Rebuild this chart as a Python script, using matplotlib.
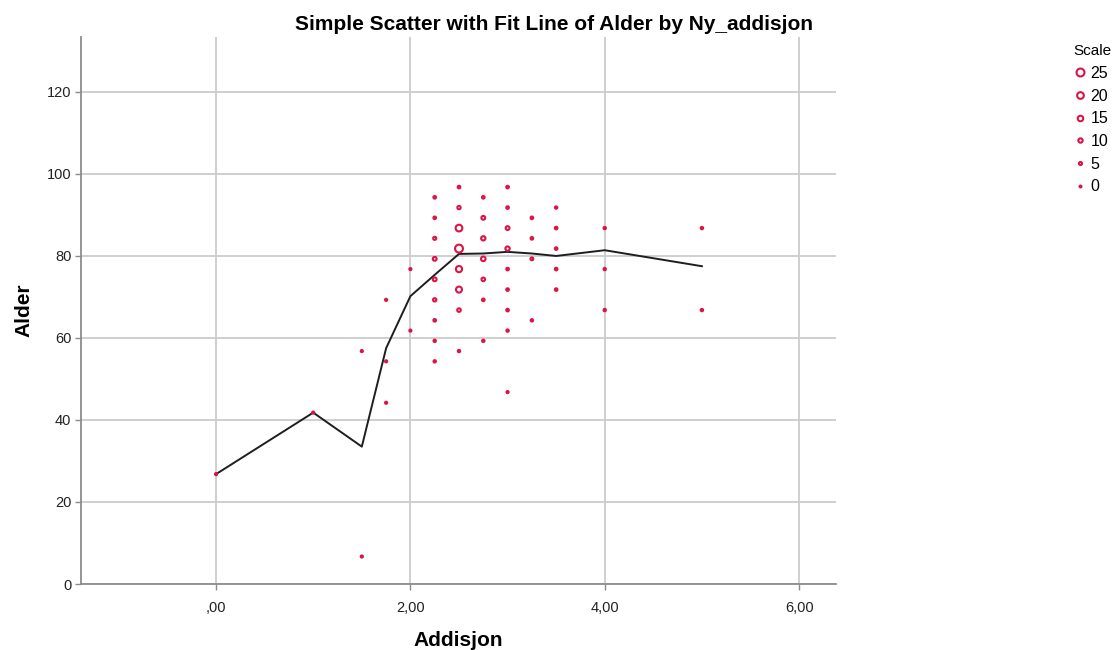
import matplotlib

matplotlib.use("Agg")
import matplotlib.pyplot as plt
from matplotlib.lines import Line2D

plt.rcParams["font.family"] = ["Liberation Sans", "DejaVu Sans"]

# binned scatter: bin centre (Addisjon), bin centre (Alder), count in bin
addisjon = [
    0.0, 1.0, 1.5, 1.5, 1.75, 1.75, 1.75, 2.0, 2.0,
    2.25, 2.25, 2.25, 2.25, 2.25, 2.25, 2.25, 2.25, 2.25,
    2.5, 2.5, 2.5, 2.5, 2.5, 2.5, 2.5, 2.5,
    2.75, 2.75, 2.75, 2.75, 2.75, 2.75, 2.75,
    3.0, 3.0, 3.0, 3.0, 3.0, 3.0, 3.0, 3.0, 3.0,
    3.25, 3.25, 3.25, 3.25,
    3.5, 3.5, 3.5, 3.5, 3.5,
    4.0, 4.0, 4.0, 5.0, 5.0,
]
alder = [
    26.8, 41.8, 56.8, 6.7, 69.3, 54.3, 44.2, 76.8, 61.8,
    94.3, 89.3, 84.3, 79.3, 74.3, 69.3, 64.3, 59.3, 54.3,
    96.8, 91.8, 86.8, 81.8, 76.8, 71.8, 66.8, 56.8,
    94.3, 89.3, 84.3, 79.3, 74.3, 69.3, 59.3,
    96.8, 91.8, 86.8, 81.8, 76.8, 71.8, 66.8, 61.8, 46.8,
    89.3, 84.3, 79.3, 64.3,
    91.8, 86.8, 81.8, 76.8, 71.8,
    86.8, 76.8, 66.8, 86.8, 66.8,
]
antall = [
    1, 1, 1, 1, 1, 1, 1, 1, 1,
    3, 3, 5, 8, 8, 6, 3, 2, 2,
    3, 6, 20, 25, 18, 17, 7, 2,
    3, 8, 10, 11, 7, 3, 2,
    3, 3, 8, 10, 3, 3, 3, 2, 1,
    3, 3, 4, 2,
    2, 3, 3, 3, 3,
    2, 2, 2, 2, 2,
]

# fit line through the mean Alder at each Addisjon value
fit_x = [0.0, 1.0, 1.5, 1.75, 2.0, 2.25, 2.5, 2.75, 3.0, 3.25, 3.5, 4.0, 5.0]
fit_y = [26.8, 41.8, 33.5, 57.5, 70.2, 75.4, 80.5, 80.6, 81.0, 80.6, 80.0, 81.4, 77.5]

x_ticks = [0, 2, 4, 6]
x_tick_labels = [",00", "2,00", "4,00", "6,00"]
y_ticks = [0, 20, 40, 60, 80, 100, 120]
scale_values = [25, 20, 15, 10, 5, 0]

RED = "#dc1446"
LW = 1.5


def size_for(count):
    # outer diameter in pixels grows with the count; scatter wants points^2
    outer_px = 3.8 + 0.24 * count
    inner_pt = max(outer_px - 1.9, 0.8) * 0.72
    return inner_pt ** 2


fig = plt.figure(figsize=(11.13, 6.5), dpi=100)
ax = fig.add_axes([81 / 1113, 1 - 584 / 650, (836 - 81) / 1113, (584 - 37) / 650])

ax.set_xlim(-1.39, 6.38)
ax.set_ylim(0, 133.4)
ax.set_xticks(x_ticks)
ax.set_xticklabels(x_tick_labels)
ax.set_yticks(y_ticks)
ax.grid(True, color="#cccccc", linewidth=1.3, zorder=0)
ax.set_axisbelow(True)

for side in ("top", "right"):
    ax.spines[side].set_visible(False)
for side in ("left", "bottom"):
    ax.spines[side].set_color("#8c8c8c")
    ax.spines[side].set_linewidth(1.3)
ax.tick_params(axis="both", length=4, width=1, color="#8c8c8c", labelsize=10.5, labelcolor="#222222")
ax.tick_params(axis="x", pad=8)
ax.tick_params(axis="y", pad=3)

ax.plot(fit_x, fit_y, color="#1e1e1e", linewidth=1.4, zorder=3)
ax.scatter(
    addisjon,
    alder,
    s=[size_for(n) for n in antall],
    facecolors="none",
    edgecolors=RED,
    linewidths=LW,
    zorder=4,
)

ax.set_xlabel("Addisjon", fontsize=15, fontweight="bold", labelpad=12)
ax.set_ylabel("Alder", fontsize=15, fontweight="bold")
ax.yaxis.set_label_coords(-0.063, 0.5)
fig.suptitle("Simple Scatter with Fit Line of Alder by Ny_addisjon", fontsize=15,
             fontweight="bold", x=0.498, y=0.977, va="top")

handles = [
    Line2D([], [], linestyle="none", marker="o", markerfacecolor="none",
           markeredgecolor=RED, markeredgewidth=LW, markersize=size_for(v) ** 0.5)
    for v in scale_values
]
leg = fig.legend(handles, [str(v) for v in scale_values], title="Scale",
                 loc="upper left", bbox_to_anchor=(1062 / 1113, 1 - 33 / 650),
                 frameon=False, fontsize=11.5, title_fontsize=11,
                 labelspacing=0.48, handlelength=0.8, handletextpad=0.3,
                 borderpad=0.2)
leg._legend_box.align = "left"

fig.savefig("out.png", dpi=100)
